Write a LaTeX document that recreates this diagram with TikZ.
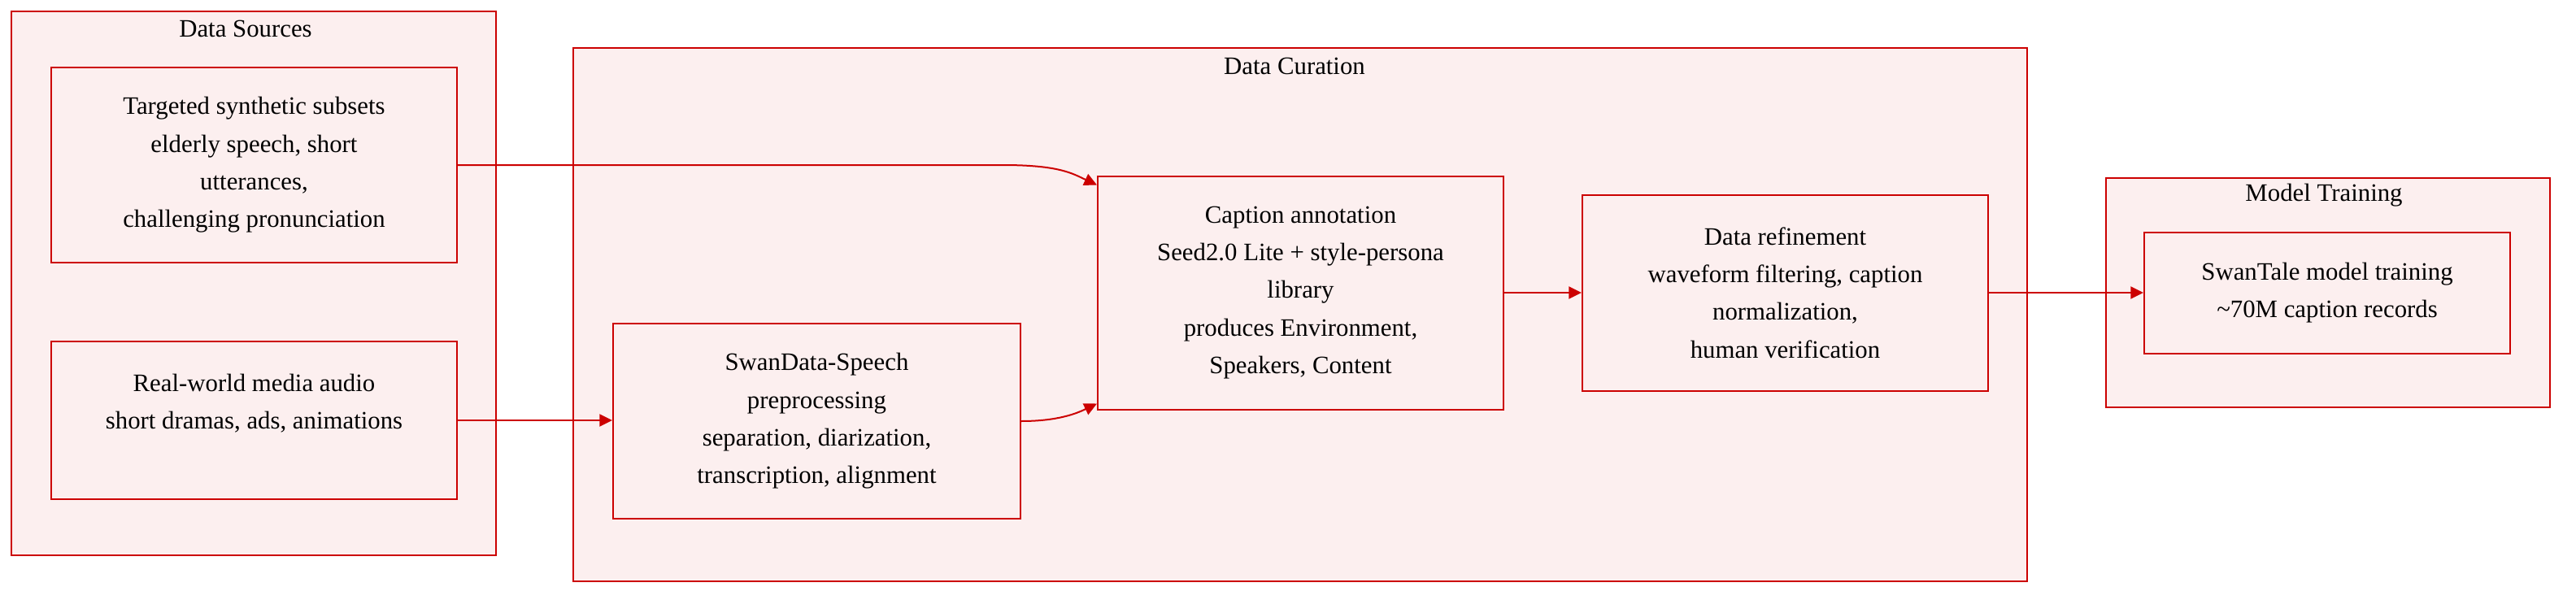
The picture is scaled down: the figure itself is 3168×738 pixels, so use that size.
\documentclass[tikz,border=0pt]{standalone}
\usepackage{fontspec}
\setmainfont{Liberation Serif}
\usetikzlibrary{arrows.meta,calc}
\definecolor{redline}{RGB}{204,0,0}
\definecolor{pinkfill}{RGB}{252,239,239}
\tikzset{
  cluster/.style={draw=redline, fill=pinkfill, line width=1pt},
  box/.style={draw=redline, fill=pinkfill, line width=1pt, align=center,
    font=\fontsize{15.4}{23.2}\selectfont, inner sep=0pt},
  ttl/.style={font=\fontsize{15.4}{18}\selectfont, inner sep=0pt},
  conn/.style={draw=redline, line width=1pt, -{Triangle[length=7.8pt,width=7.5pt]}},
}
\begin{document}
\begin{tikzpicture}[x=0.5pt,y=-0.5pt]
\useasboundingbox (0,0) rectangle (3168,738);
% clusters
\draw[cluster] (14,14) rectangle (610,683);
\node[ttl] (tsrc) at (302,35) {Data Sources};
\draw[cluster] (705,59) rectangle (2493,715);
\node[ttl] (tcur) at (1592,81) {Data Curation};
\draw[cluster] (2590,219) rectangle (3136,501);
\node[ttl] (ttrn) at (2858,240) {Model Training};
% nodes
\node[box, minimum width=249.5pt, minimum height=120pt] (T) at (312.5,203)
  {Targeted synthetic subsets\\elderly speech, short\\utterances,\\challenging pronunciation};
\node[box, minimum width=249.5pt, minimum height=97pt] (R) at (312.5,517)
  {Real-world media audio\\short dramas, ads, animations\\\mbox{}};
\node[box, minimum width=250.5pt, minimum height=120pt] (S) at (1004.5,518)
  {SwanData-Speech\\preprocessing\\separation, diarization,\\transcription, alignment};
\node[box, minimum width=249.5pt, minimum height=143.5pt] (C) at (1599.5,360)
  {Caption annotation\\Seed2.0 Lite + style-persona\\library\\produces Environment,\\Speakers, Content};
\node[box, minimum width=249.5pt, minimum height=120.5pt] (D) at (2195.5,360)
  {Data refinement\\waveform filtering, caption\\normalization,\\human verification};
\node[box, minimum width=225pt, minimum height=74.5pt] (M) at (2862,360)
  {SwanTale model training\\\textasciitilde70M caption records};
% connectors
\coordinate (c1) at ($(C.north west)+(0,12)$);
\coordinate (c2) at ($(C.south west)+(0,-8)$);
\draw[conn] (T.east) -- ($(T.east)+(670,0)$)
  .. controls ($(T.east)+(740,0)$) and ($(c1)+(-30,-14)$) .. (c1);
\draw[conn] (R.east) -- (R.east -| S.west);
\draw[conn] (S.east) .. controls ($(S.east)+(45,0)$) and ($(c2)+(-25,12)$) .. (c2);
\draw[conn] (C.east) -- (D.west);
\draw[conn] (D.east) -- (M.west);
\end{tikzpicture}
\end{document}
